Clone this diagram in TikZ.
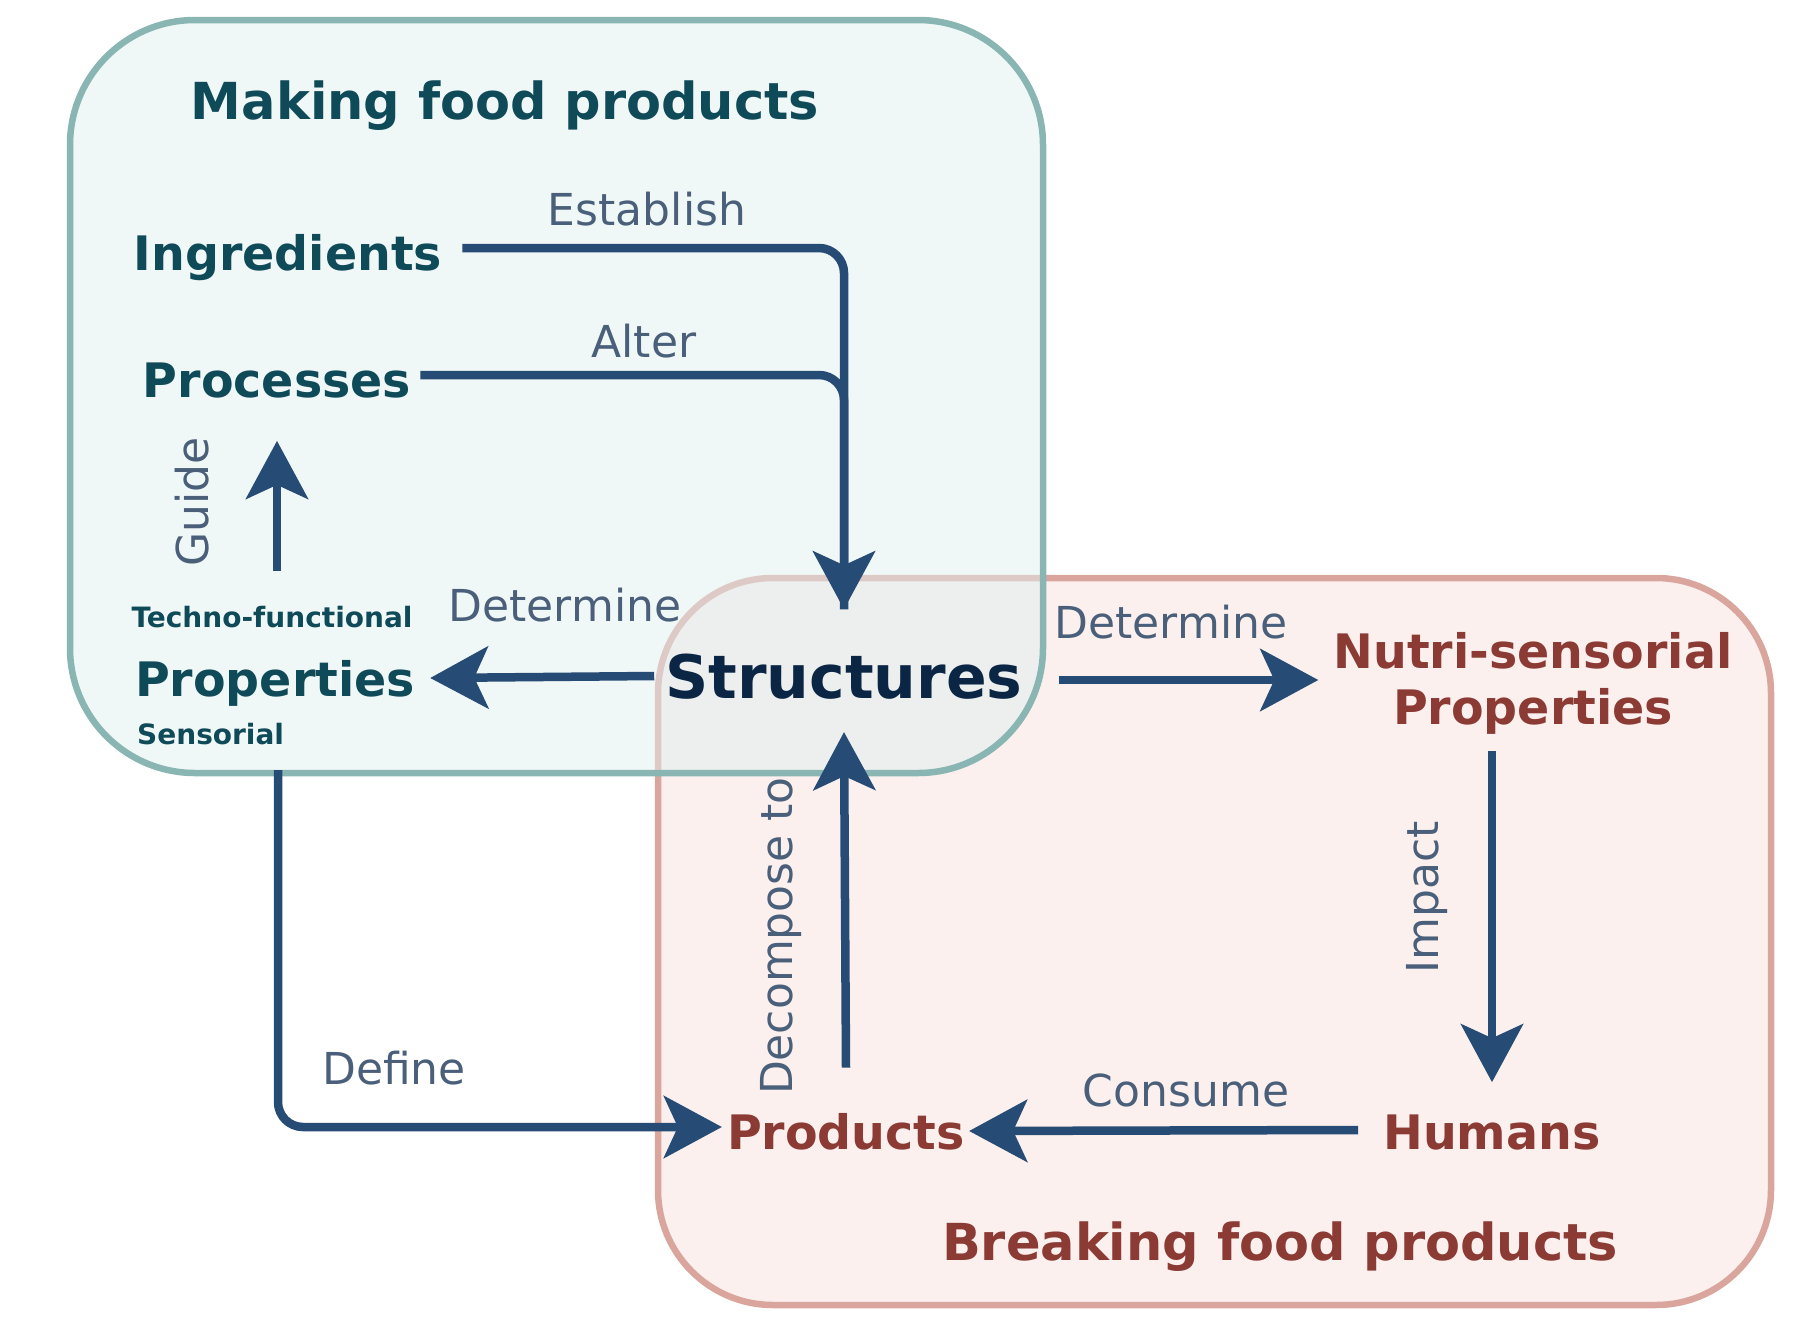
\documentclass[tikz,border=0pt]{standalone}
\usepackage{fontspec}
\setmainfont{DejaVu Sans}
\usetikzlibrary{arrows.meta,calc}
\definecolor{tealborder}{HTML}{89B5B2}
\definecolor{tealfill}{RGB}{225,239,239}
\definecolor{redborder}{HTML}{D9A59D}
\definecolor{redfill}{HTML}{FBF0EE}
\definecolor{tealtext}{HTML}{0E4A58}
\definecolor{navytext}{HTML}{0B2545}
\definecolor{redtext}{HTML}{8B3A34}
\definecolor{lblcol}{HTML}{4A5F7A}
\definecolor{arrowcol}{HTML}{264B75}
\begin{document}
\begin{tikzpicture}[x=1pt,y=-1pt,
  every node/.style={inner sep=0pt, anchor=base},
  titletxt/.style={font=\bfseries\fontsize{51}{60}\selectfont},
  tnode/.style={font=\bfseries\fontsize{47.5}{56}\selectfont, text=tealtext},
  rnode/.style={font=\bfseries\fontsize{47.5}{56}\selectfont, text=redtext},
  snode/.style={font=\bfseries\fontsize{60}{70}\selectfont, text=navytext},
  tsub/.style={font=\bfseries\fontsize{28}{32}\selectfont, text=tealtext},
  lbl/.style={font=\fontsize{44}{52}\selectfont, text=lblcol},
  conn/.style={draw=arrowcol, line width=8.5pt, rounded corners=25pt,
    -{Stealth[length=58pt,width=62pt,inset=14pt]}},
  plain/.style={draw=arrowcol, line width=8.5pt, rounded corners=25pt}
]
\useasboundingbox (0,0) rectangle (1800,1334);
% group boxes
\path[draw=redborder, fill=redfill, line width=6.5pt, rounded corners=115pt]
  (658,578) rectangle (1771,1305);
\path[draw=tealborder, fill=tealfill, fill opacity=0.5, line width=6.5pt, rounded corners=125pt]
  (70,20) rectangle (1043,773);

% nodes
\node[titletxt, text=tealtext] (mk) at (505,119) {Making food products};
\node[tnode] (ing) at (288,270) {Ingredients};
\node[tnode] (proc) at (277,397) {Processes};
\node[tsub] (techno) at (272,627) {Techno-functional};
\node[tnode] (propl) at (275,696) {Properties};
\node[tsub, anchor=base west] (sens) at (137,744) {Sensorial};
\node[snode] (str) at (844,698) {Structures};
\node[rnode] (nutri) at (1533,668) {Nutri-sensorial};
\node[rnode] (propr) at (1533,724) {Properties};
\node[rnode] (hum) at (1492,1149) {Humans};
\node[rnode] (prod) at (846,1149) {Products};
\node[titletxt, text=redtext] (brk) at (1280,1260) {Breaking food products};

% labels
\node[lbl] (lest) at (647,225) {Establish};
\node[lbl] (lalt) at (644,357) {Alter};
\node[lbl] (ldet1) at (565,621) {Determine};
\node[lbl] (ldet2) at (1171,638) {Determine};
\node[lbl] (lcons) at (1186,1106) {Consume};
\node[lbl] (ldef) at (394,1084) {Define};
\node[lbl, anchor=center, rotate=90] (lguide) at (192,502) {Guide};
\node[lbl, anchor=center, rotate=90] (limp) at (1427,897) {Impact};
\node[lbl, anchor=center, rotate=90] (ldec) at (781,936) {Decompose to};

% connectors
\draw[plain] ($(proc.base east)+(9,-22)$) -| ($(str.north)+(0,-44)$);
\draw[conn] ($(ing.base east)+(20,-22)$) -| ($(str.north)+(0,-44)$);
\draw[conn] ($(proc.south |- techno.north)+(0,-35)$) -- ($(proc.south)+(0,43)$);
\draw[conn] ($(str.base west)+(-11,-22)$) -- ($(propl.base east)+(15,-18)$);
\draw[conn] ($(str.base east)+(36,-18)$) -- ($(nutri.base west)+(-15,12)$);
\draw[conn] ($(hum.north |- propr.south)+(0,17)$) -- ($(hum.north)+(0,-32)$);
\draw[conn] ($(hum.base west)+(-25,-19)$) -- ($(prod.base east)+(4,-18)$);
\draw[conn] ($(prod.north)+(0,-45)$) -- ($(str.south)+(0,33)$);
\draw[conn] ($(propl.south)+(3,64)$) |- ($(prod.base west)+(-5,-22)$);
\end{tikzpicture}
\end{document}
